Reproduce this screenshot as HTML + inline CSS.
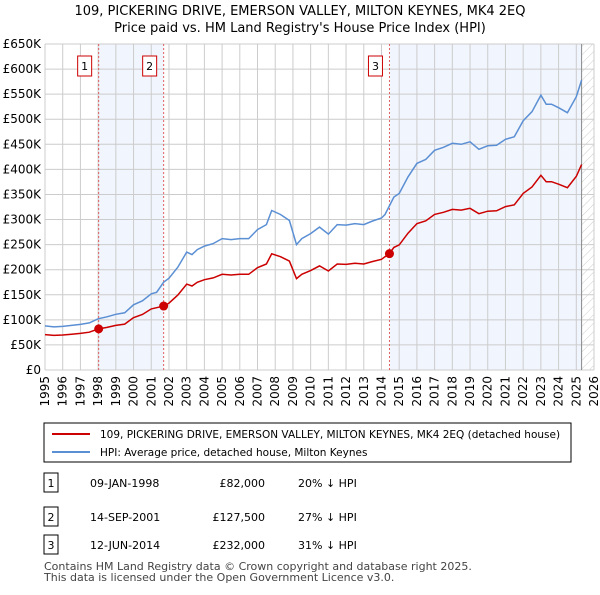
<!DOCTYPE html>
<html><head><meta charset="utf-8"><style>
body{margin:0;background:#fff;font-family:"Liberation Sans",sans-serif;}
svg text{font-family:"DejaVu Sans","Liberation Sans",sans-serif;}
</style></head><body>
<svg id="c" width="600" height="590" xmlns="http://www.w3.org/2000/svg">
<defs><pattern id="hatch" width="6" height="6" patternUnits="userSpaceOnUse" patternTransform="rotate(45)"><line x1="0" y1="0" x2="0" y2="6" stroke="#ccc" stroke-width="1"/></pattern></defs>
<text x="300" y="15" text-anchor="middle" font-size="13">109, PICKERING DRIVE, EMERSON VALLEY, MILTON KEYNES, MK4 2EQ</text>
<text x="300" y="32" text-anchor="middle" font-size="13">Price paid vs. HM Land Registry's House Price Index (HPI)</text>
<g id="plot"></g>
<rect x="44" y="423" width="527" height="39" fill="#fff" stroke="#000" stroke-width="1"/>
<line x1="52" y1="434" x2="90" y2="434" stroke="#cc0000" stroke-width="2"/>
<text x="100" y="438" font-size="10.5">109, PICKERING DRIVE, EMERSON VALLEY, MILTON KEYNES, MK4 2EQ (detached house)</text>
<line x1="52" y1="452" x2="90" y2="452" stroke="#5b8fd4" stroke-width="2"/>
<text x="100" y="456" font-size="10.5">HPI: Average price, detached house, Milton Keynes</text>
<g id="tbl"></g>
<text x="44" y="570" font-size="11" fill="#444">Contains HM Land Registry data © Crown copyright and database right 2025.</text>
<text x="44" y="581" font-size="11" fill="#444">This data is licensed under the Open Government Licence v3.0.</text>
</svg>
<script>
const hpiYears=[1995,1995.5,1996,1996.5,1997,1997.5,1998,1998.5,1999,1999.5,2000,2000.5,2001,2001.3,2001.7,2002,2002.5,2003,2003.3,2003.6,2004,2004.5,2005,2005.5,2006,2006.5,2007,2007.5,2007.8,2008.3,2008.8,2009.2,2009.5,2010,2010.5,2011,2011.5,2012,2012.5,2013,2013.5,2014,2014.2,2014.7,2015,2015.5,2016,2016.5,2017,2017.5,2018,2018.5,2019,2019.5,2020,2020.5,2021,2021.5,2022,2022.5,2023,2023.3,2023.6,2024,2024.5,2025,2025.3];
const hpiValues=[88,86,87,89,91,94,102,106,111,114,130,138,152,155,175,183,205,235,230,240,247,252,262,260,262,262,280,290,318,310,298,250,262,272,285,271,290,289,292,290,297,303,310,345,352,385,412,420,438,444,452,450,455,440,447,448,460,465,497,515,548,530,530,523,513,545,578];
const saleDates=[1998.03,2001.7,2014.45];
const salePrices=[82000,127500,232000];
const saleLabels=["09-JAN-1998","14-SEP-2001","12-JUN-2014"];
const salePriceText=["£82,000","£127,500","£232,000"];
const saleDiff=["20% ↓ HPI","27% ↓ HPI","31% ↓ HPI"];
const yTicks=[0,50,100,150,200,250,300,350,400,450,500,550,600,650];
const xTicks=[1995,1996,1997,1998,1999,2000,2001,2002,2003,2004,2005,2006,2007,2008,2009,2010,2011,2012,2013,2014,2015,2016,2017,2018,2019,2020,2021,2022,2023,2024,2025,2026];
const dataEnd=2025.3;

const X0=45,X1=594,Y0=370,Y1=44;
const xs=y=>X0+(y-1995)/(2026-1995)*(X1-X0);
const ys=v=>Y0-v/650*(Y0-Y1);
const NS="http://www.w3.org/2000/svg";
const plot=document.getElementById('plot');
function mk(tag,attrs,parent){const e=document.createElementNS(NS,tag);for(const k in attrs)e.setAttribute(k,attrs[k]);(parent||plot).appendChild(e);return e;}
function hpiAt(t){for(let i=1;i<hpiYears.length;i++){if(t<=hpiYears[i]){const f=(t-hpiYears[i-1])/(hpiYears[i]-hpiYears[i-1]);return hpiValues[i-1]+f*(hpiValues[i]-hpiValues[i-1]);}}return hpiValues[hpiValues.length-1];}

let r=mk('rect',{x:X0,y:Y1,width:X1-X0,height:Y0-Y1,fill:'#fff'});


let s1=mk('rect',{x:xs(saleDates[0]),y:Y1,width:xs(saleDates[1])-xs(saleDates[0]),height:Y0-Y1,fill:'#eef3fc',opacity:0.8});


let s2=mk('rect',{x:xs(saleDates[2]),y:Y1,width:xs(dataEnd)-xs(saleDates[2]),height:Y0-Y1,fill:'#eef3fc',opacity:0.8});


let hz=mk('rect',{x:xs(dataEnd),y:Y1,width:X1-xs(dataEnd),height:Y0-Y1,fill:'url(#hatch)'});



yTicks.forEach(v=>{
 const l=mk('line',{x1:X0,x2:X1,y1:ys(v),y2:ys(v),stroke:'#ccc','stroke-width':1});
 
 
 const t=mk('text',{x:X0-4,y:ys(v)+4,'text-anchor':'end','font-size':12});
 
 
 t.textContent=v===0?'£0':'£'+v+'K';
});
xTicks.forEach(y=>{
 const l=mk('line',{x1:xs(y),x2:xs(y),y1:Y1,y2:Y0,stroke:'#ccc','stroke-width':1});
 
 
 const t=mk('text',{x:0,y:0,'text-anchor':'end','font-size':12,transform:`translate(${xs(y)+4},${Y0+6}) rotate(-90)`});
 
 
 t.textContent=y;
});
let el=mk('line',{x1:xs(dataEnd),x2:xs(dataEnd),y1:Y1,y2:Y0,stroke:'#888','stroke-width':1});



saleDates.forEach((d,i)=>{
 const l=mk('line',{x1:xs(d),x2:xs(d),y1:Y1,y2:Y0,stroke:'#e06060','stroke-width':1,'stroke-dasharray':'2,2'});
 
 
 const b=mk('rect',{x:xs(d)-21,y:56,width:14,height:20,fill:'#fff',stroke:'#cc0000'});
 
 
 const t=mk('text',{x:xs(d)-14,y:70,'text-anchor':'middle','font-size':11});
 
 
 t.textContent=i+1;
});

let bp=hpiYears.map((y,i)=>`${xs(y).toFixed(1)},${ys(hpiValues[i]).toFixed(1)}`).join(' ');
let bl=mk('polyline',{points:bp,fill:'none',stroke:'#5b8fd4','stroke-width':1.5});



function ratioAt(t){let k=0;for(let i=0;i<saleDates.length;i++)if(t>=saleDates[i])k=i;return salePrices[k]/1000/hpiAt(saleDates[k]);}
let rp=[];
const pts=[...hpiYears,...saleDates].sort((a,b)=>a-b);
pts.forEach(t=>{rp.push(`${xs(t).toFixed(1)},${ys(hpiAt(t)*ratioAt(t)).toFixed(1)}`);});
let rl=mk('polyline',{points:rp.join(' '),fill:'none',stroke:'#cc0000','stroke-width':1.5});


saleDates.forEach((d,i)=>{
 const c=mk('circle',{cx:xs(d),cy:ys(salePrices[i]/1000),r:4.5,fill:'#cc0000'});
 
 
});

const tbl=document.getElementById('tbl');
const rowY=[483,517,545];
saleDates.forEach((d,i)=>{
 const y=rowY[i];
 const b=mk('rect',{x:44,y:y-10,width:14,height:19,fill:'#fff',stroke:'#000'},tbl);
 
 
 const n=mk('text',{x:51,y:y+4,'text-anchor':'middle','font-size':11},tbl);
 
 
 n.textContent=i+1;
 const a=mk('text',{x:90,y:y+4,'font-size':11},tbl);
 
 
 a.textContent=saleLabels[i];
 const p=mk('text',{x:265,y:y+4,'text-anchor':'end','font-size':11},tbl);
 
 
 p.textContent=salePriceText[i];
 const h=mk('text',{x:298,y:y+4,'font-size':11},tbl);
 
 
 h.textContent=saleDiff[i];
});
</script>
</body></html>
